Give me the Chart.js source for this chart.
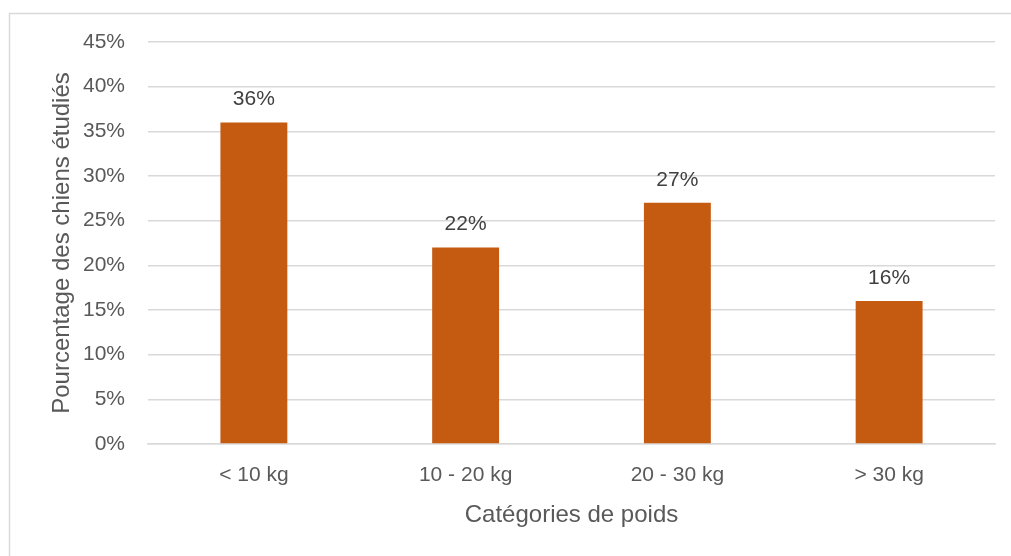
<!DOCTYPE html>
<html>
<head>
<meta charset="utf-8">
<script src="https://cdn.jsdelivr.net/npm/chart.js@4"></script>
<style>
html,body{margin:0;padding:0;background:#fff;}
#wrap{position:relative;width:1011px;height:556px;}
</style>
</head>
<body>
<div id="wrap"><canvas id="c" width="1011" height="556"></canvas></div>
<script>
const categories = ["< 10 kg", "10 - 20 kg", "20 - 30 kg", "> 30 kg"];
const values = [36, 22, 27, 16];
const yTicks = [0, 5, 10, 15, 20, 25, 30, 35, 40, 45];
const xTitle = "Catégories de poids";
const yTitle = "Pourcentage des chiens étudiés";

const FONT = "'Liberation Sans', Arial, sans-serif";

const borderPlugin = {
  id: 'frame',
  beforeDraw(chart) {
    const ctx = chart.ctx;
    ctx.save();
    ctx.fillStyle = '#fff';
    ctx.fillRect(0, 0, chart.width, chart.height);
    ctx.strokeStyle = '#d9d9d9';
    ctx.lineWidth = 1.5;
    ctx.strokeRect(9.5, 13.5, chart.width + 20, chart.height + 20);
    ctx.restore();
  }
};

const labelPlugin = {
  id: 'vlabels',
  afterDatasetsDraw(chart) {
    const ctx = chart.ctx;
    const meta = chart.getDatasetMeta(0);
    ctx.save();
    ctx.font = "21px " + FONT;
    ctx.fillStyle = '#404040';
    ctx.textAlign = 'center';
    ctx.textBaseline = 'middle';
    meta.data.forEach((bar, i) => {
      ctx.fillText(values[i] + '%', bar.x, bar.y - 23);
    });
    ctx.restore();
  }
};

new Chart(document.getElementById('c'), {
  type: 'bar',
  data: {
    labels: categories,
    datasets: [{
      data: values,
      backgroundColor: '#C55A11',
      barPercentage: 1,
      categoryPercentage: 0.316
    }]
  },
  options: {
    responsive: false,
    animation: false,
    devicePixelRatio: 1,
    layout: { padding: { left: 0, top: 42, right: 16, bottom: 0 } },
    plugins: { legend: { display: false }, tooltip: { enabled: false } },
    scales: {
      x: {
        grid: { display: false, drawTicks: false },
        border: { display: true, color: '#d9d9d9', width: 1.5 },
        ticks: { color: '#595959', font: { family: FONT, size: 21 }, padding: 19 },
        title: { display: true, text: xTitle, color: '#595959', font: { family: FONT, size: 24 }, padding: { top: 0, bottom: 26 } },
        afterFit(s) { s.height = 112; }
      },
      y: {
        min: 0, max: 45,
        afterBuildTicks(s) { s.ticks = yTicks.map(v => ({ value: v })); },
        grid: { color: '#d9d9d9', lineWidth: 1.5, drawTicks: false },
        border: { display: false },
        ticks: { color: '#595959', font: { family: FONT, size: 21 }, padding: 23, callback: v => v + '%' },
        title: { display: true, text: yTitle, color: '#595959', font: { family: FONT, size: 24 }, padding: { top: 48, bottom: 0 } },
        afterFit(s) { s.width = 148; }
      }
    }
  },
  plugins: [borderPlugin, labelPlugin]
});
</script>
</body>
</html>
